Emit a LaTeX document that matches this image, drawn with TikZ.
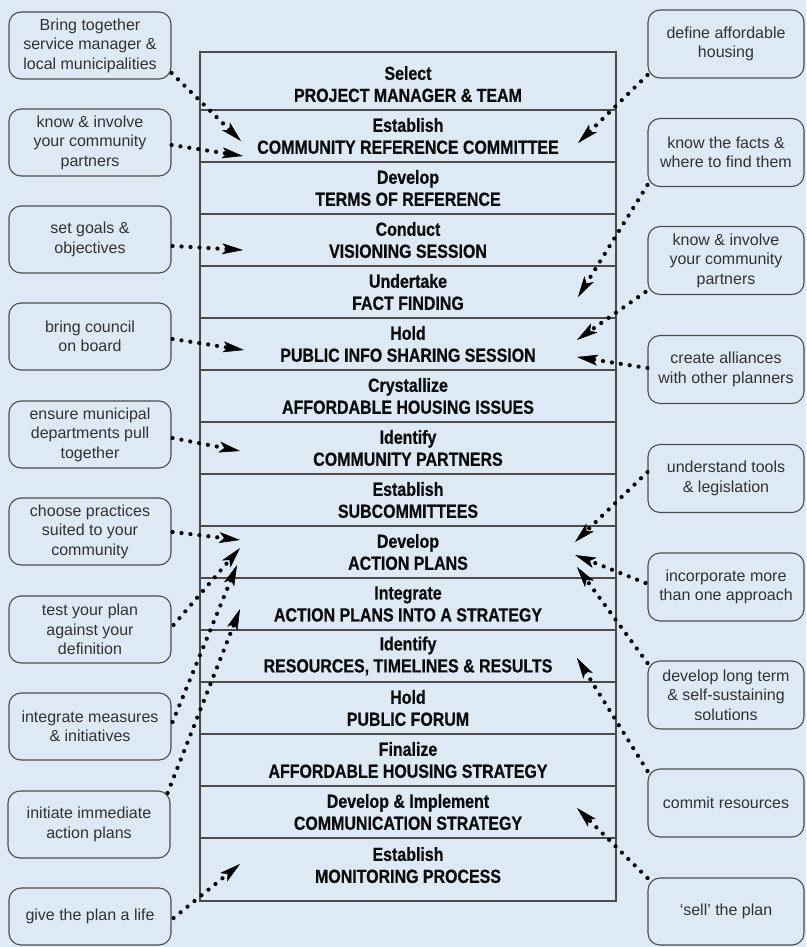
\documentclass[tikz,border=0pt]{standalone}
\usepackage{fontspec}
\setmainfont{Liberation Sans}
\newfontfamily\stackfont[FakeStretch=0.84, BoldFeatures={FakeBold=0.6}]{Liberation Sans}
\usetikzlibrary{arrows.meta,calc}
\definecolor{bgblue}{RGB}{221,233,245}
\definecolor{linegray}{RGB}{75,75,75}
\definecolor{boxtext}{RGB}{50,50,50}
\begin{document}
\begin{tikzpicture}[x=1pt,y=-1pt,
  stackrow/.style={draw=linegray, line width=1.1pt, rectangle, minimum width=416pt, minimum height=52pt, inner sep=0pt, align=center, font=\stackfont\bfseries\fontsize{19}{22}\selectfont, text=black!95},
  sidebox/.style={draw=linegray, line width=1.1pt, rounded corners=12pt, rectangle, inner sep=0pt, align=center, font=\fontsize{16}{19.5}\selectfont, text=boxtext},
  lbox/.style={sidebox, minimum width=162pt, minimum height=67pt},
  rbox/.style={sidebox, minimum width=156pt, minimum height=68pt},
  conn/.style={line width=4.2pt, line cap=round, dash pattern=on 0pt off 9pt, draw=black, -{Stealth[length=21pt,width=11pt,inset=5pt,line width=0.5pt]}}
]
\fill[bgblue] (0,0) rectangle (806,947);
\useasboundingbox (0,0) rectangle (806,947);

% central stack
\node[stackrow, minimum height=58pt] (s1) at (408,81) {\rule{0pt}{20pt}Select\\PROJECT MANAGER \& TEAM};
\node[stackrow] (s2) at (408,136) {Establish\\COMMUNITY REFERENCE COMMITTEE};
\node[stackrow] (s3) at (408,188) {Develop\\TERMS OF REFERENCE};
\node[stackrow] (s4) at (408,240) {Conduct\\VISIONING SESSION};
\node[stackrow] (s5) at (408,292) {Undertake\\FACT FINDING};
\node[stackrow] (s6) at (408,344) {Hold\\PUBLIC INFO SHARING SESSION};
\node[stackrow] (s7) at (408,396) {Crystallize\\AFFORDABLE HOUSING ISSUES};
\node[stackrow] (s8) at (408,448) {Identify\\COMMUNITY PARTNERS};
\node[stackrow] (s9) at (408,500) {Establish\\SUBCOMMITTEES};
\node[stackrow] (s10) at (408,552) {Develop\\ACTION PLANS};
\node[stackrow] (s11) at (408,604) {Integrate\\ACTION PLANS INTO A STRATEGY};
\node[stackrow] (s12) at (408,656) {Identify\\RESOURCES, TIMELINES \& RESULTS};
\node[stackrow] (s13) at (408,708) {Hold\\PUBLIC FORUM};
\node[stackrow] (s14) at (408,760) {Finalize\\AFFORDABLE HOUSING STRATEGY};
\node[stackrow] (s15) at (408,812) {Develop \& Implement\\COMMUNICATION STRATEGY};
\node[stackrow, minimum height=63pt] (s16) at (408,869.5) {Establish\\MONITORING PROCESS\rule[-9pt]{0pt}{9pt}};

% left boxes
\node[lbox] (l1) at (90,45.5) {Bring together\\service manager \&\\local municipalities};
\node[lbox] (l2) at (90,142.5) {know \& involve\\your community\\partners};
\node[lbox] (l3) at (90,239.5) {set goals \&\\objectives};
\node[lbox] (l4) at (90,336.5) {bring council\\on board};
\node[lbox] (l5) at (90,434.5) {ensure municipal\\departments pull\\together};
\node[lbox] (l6) at (90,531.5) {choose practices\\suited to your\\community};
\node[lbox] (l7) at (90,629.5) {test your plan\\against your\\definition};
\node[lbox] (l8) at (90,726.5) {integrate measures\\\& initiatives};
\node[lbox] (l9) at (89,824.5) {initiate immediate\\action plans};
\node[lbox, minimum height=57pt] (l10) at (90,916.5) {give the plan a life};

% right boxes
\node[rbox] (r1) at (726,44) {define affordable\\housing};
\node[rbox] (r2) at (726,152.5) {know the facts \&\\where to find them};
\node[rbox] (r3) at (726,260.5) {know \& involve\\your community\\partners};
\node[rbox] (r4) at (726,369.5) {create alliances\\with other planners};
\node[rbox] (r5) at (726,478.5) {understand tools\\\& legislation};
\node[rbox] (r6) at (726,587) {incorporate more\\than one approach};
\node[rbox] (r7) at (726,695) {develop long term\\\& self-sustaining\\solutions};
\node[rbox] (r8) at (726,803) {commit resources};
\node[rbox, minimum height=67pt] (r9) at (726,911.5) {‘sell’ the plan};

% arrow tips
\coordinate (tl1) at (241,141);
\coordinate (tl2) at (243,156);
\coordinate (tl3) at (243,250);
\coordinate (tl4) at (244,350);
\coordinate (tl5) at (240,451);
\coordinate (tl6) at (240,540);
\coordinate (tl7) at (240,548);
\coordinate (tl8) at (237,565);
\coordinate (tl9) at (240,609);
\coordinate (tl10) at (240,864);
\coordinate (tr1) at (578,143);
\coordinate (tr2) at (578,297);
\coordinate (tr3) at (577,340);
\coordinate (tr4) at (577,357);
\coordinate (tr5) at (575,542);
\coordinate (tr6) at (575,555);
\coordinate (tr7) at (577,567);
\coordinate (tr8) at (577,658);
\coordinate (tr9) at (577,808);

% left connectors
\draw[conn] ($(l1.east)+(0,27.5)$) -- (tl1);
\draw[conn] ($(l2.east)+(0,2.5)$) -- (tl2);
\draw[conn] ($(l3.east)+(1,6.5)$) -- (tl3);
\draw[conn] ($(l4.east)+(1,2.5)$) -- (tl4);
\draw[conn] ($(l5.east)+(1,3.5)$) -- (tl5);
\draw[conn] ($(l6.east)+(1,0.5)$) -- (tl6);
\draw[conn] ($(l7.east)+(2,-4.5)$) -- (tl7);
\draw[conn] ($(l8.east)+(1,-4.5)$) -- (tl8);
\draw[conn] ($(l9.east)+(-3,-31.5)$) -- (tl9);
\draw[conn] ($(l10.east)+(2,1.5)$) -- (tl10);

% right connectors
\draw[conn] ($(r1.west)+(0,31)$) -- (tr1);
\draw[conn] ($(r2.west)+(0,32.5)$) -- (tr2);
\draw[conn] ($(r3.west)+(-2,31.5)$) -- (tr3);
\draw[conn] ($(r4.west)+(0,-1.5)$) -- (tr4);
\draw[conn] ($(r5.west)+(0,-6.5)$) -- (tr5);
\draw[conn] ($(r6.west)+(-2,-4)$) -- (tr6);
\draw[conn] ($(r7.west)+(0,-32)$) -- (tr7);
\draw[conn] ($(r8.west)+(0,-32)$) -- (tr8);
\draw[conn] ($(r9.west)+(0,-33.5)$) -- (tr9);
\end{tikzpicture}
\end{document}
